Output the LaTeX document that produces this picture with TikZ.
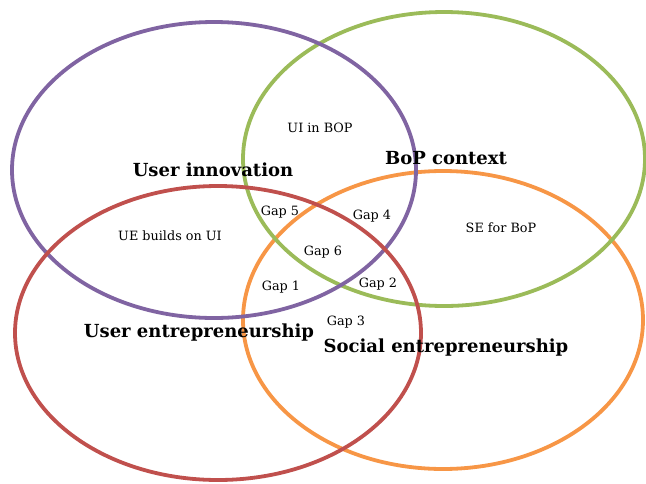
\documentclass[tikz,border=0pt]{standalone}
\usepackage{fontspec}
\setmainfont{DejaVu Serif}
\definecolor{cpurple}{HTML}{8064A2}
\definecolor{cgreen}{HTML}{9BBB59}
\definecolor{cred}{HTML}{C0504D}
\definecolor{corange}{HTML}{F79646}
\tikzset{
  setring/.style={line width=3.8pt},
  biglabel/.style={font=\fontsize{18}{20}\selectfont\bfseries, inner sep=0pt},
  smalllabel/.style={font=\fontsize{12.8}{14}\selectfont, inner sep=0pt}
}
\begin{document}
\begin{tikzpicture}[x=1pt,y=-1pt]
\useasboundingbox (0,0) rectangle (646,483);
% sets
\draw[setring, corange] (443,320) ellipse [x radius=200, y radius=149];
\draw[setring, cgreen] (444,159) ellipse [x radius=201, y radius=147];
\draw[setring, cpurple] (214,170) ellipse [x radius=202, y radius=148];
\draw[setring, cred] (218,333) ellipse [x radius=203, y radius=147];
% main labels
\node[biglabel] (ui) at (213,170) {User innovation};
\node[biglabel] (bop) at (446,158) {BoP context};
\node[biglabel] (ue) at (199,333) {User entrepreneurship};
\node[biglabel] (se) at (446,348) {Social entrepreneurship};
% region labels
\node[smalllabel] (uibop) at (320,128) {UI in BOP};
\node[smalllabel] (uebuilds) at (170,236) {UE builds on UI};
\node[smalllabel] (seforbop) at (501,228) {SE for BoP};
\node[smalllabel] (g5) at (280,212) {Gap 5};
\node[smalllabel] (g4) at (372,216) {Gap 4};
\node[smalllabel] (g6) at (323,252) {Gap 6};
\node[smalllabel] (g1) at (281,287) {Gap 1};
\node[smalllabel] (g2) at (378,284) {Gap 2};
\node[smalllabel] (g3) at (346,322) {Gap 3};
\end{tikzpicture}
\end{document}
